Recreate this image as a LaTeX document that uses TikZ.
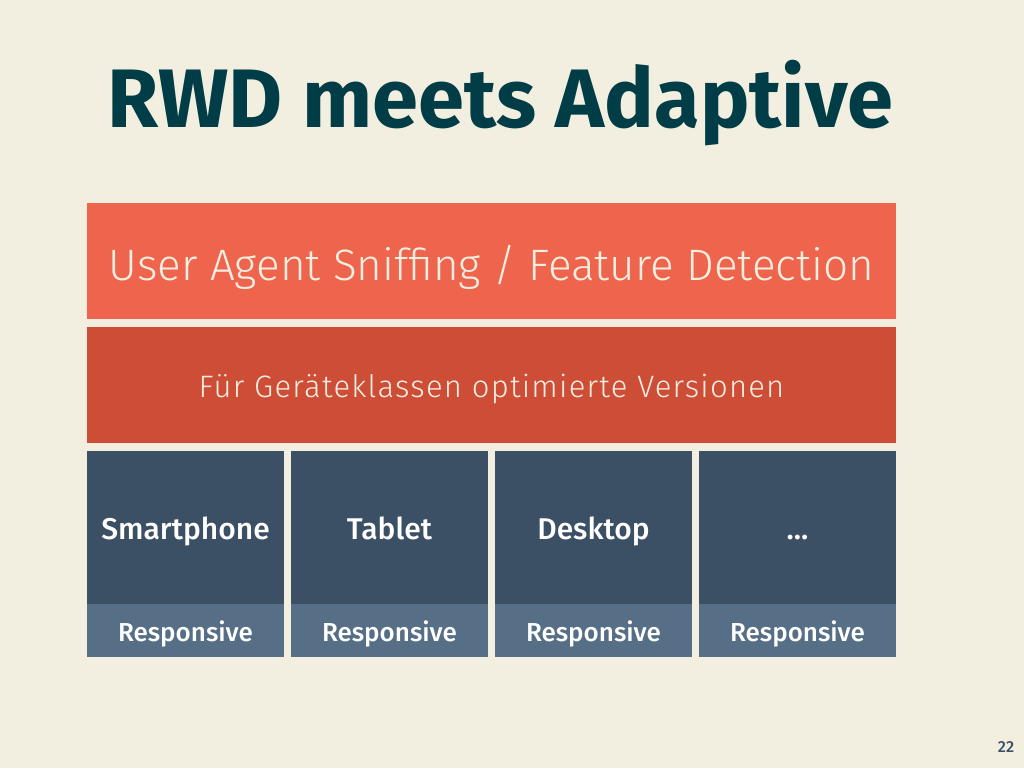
\documentclass[tikz,border=0pt]{standalone}
\usepackage{fontspec}
\setmainfont{Fira Sans}
\newfontfamily\moyen{Fira Sans Medium}
\newfontfamily\leger{Fira Sans Light}
\definecolor{fond}{HTML}{F2EFE1}
\definecolor{titre}{HTML}{013D47}
\definecolor{rougeclair}{HTML}{EF644C}
\definecolor{rougefonce}{HTML}{CD4D36}
\definecolor{bleufonce}{HTML}{3B4F65}
\definecolor{bleuclair}{HTML}{566F86}
\begin{document}
\begin{tikzpicture}[x=1pt,y=-1pt]
			\tikzstyle{bande}=[inner sep=0pt,anchor=north west,minimum width=809pt,minimum height=116pt]
			\tikzstyle{case}=[inner sep=0pt,anchor=north west,minimum width=197pt]
			\tikzstyle{etiquette}=[inner sep=0pt,anchor=base]
			\def\Gauche{87}\def\PasColonne{204}\def\Milieu{491.5}\def\Points{...}
			\fill[fond] (0,0) rectangle (1024,768);
			\useasboundingbox (0,0) rectangle (1024,768);
			\node[etiquette,anchor=base west,text=titre,font=\fontsize{83}{83}\selectfont\bfseries] (titre) at (107,127) {RWD meets Adaptive};
			\node[bande,fill=rougeclair] (detection) at (\Gauche,203) {};
			\node[bande,fill=rougefonce] (versions) at (\Gauche,327) {};
			\node[etiquette,text=fond,font=\fontsize{44}{44}\leger] (detection-texte) at (\Milieu,280) {User Agent Sniffing / Feature Detection};
			\node[etiquette,text=fond,font=\fontsize{31}{31}\leger\addfontfeature{LetterSpace=4}] (versions-texte) at (\Milieu,397) {Für Geräteklassen optimierte Versionen};
			\foreach \nom/\texte [count=\i from 0] in {smartphone/Smartphone,tablet/Tablet,desktop/Desktop,autres/\Points}{
				\node[case,minimum height=153pt,fill=bleufonce] (\nom) at ({\Gauche+\i*\PasColonne},451) {};
				\node[case,minimum height=53pt,fill=bleuclair] (\nom-resp) at ({\Gauche+\i*\PasColonne},604) {};
				\node[etiquette,text=white,font=\fontsize{30}{30}\moyen] (\nom-texte) at ({\Gauche+\i*\PasColonne+98.5},539) {\texte};
				\node[etiquette,text=white,font=\fontsize{26}{26}\moyen] (\nom-resp-texte) at ({\Gauche+\i*\PasColonne+98.5},641) {Responsive};
			}
			\node[etiquette,text=bleufonce,font=\fontsize{16}{16}\moyen] (page) at (1006,752) {22};
\end{tikzpicture}
\end{document}
